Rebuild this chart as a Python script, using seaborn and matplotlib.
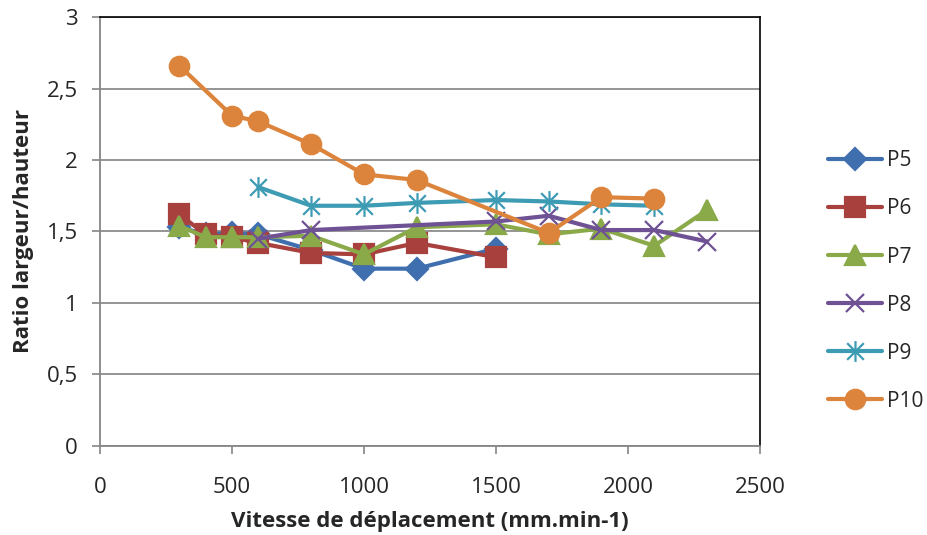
import numpy as np
import pandas as pd
import matplotlib
matplotlib.use("Agg")
import matplotlib.pyplot as plt
from matplotlib.path import Path
import seaborn as sns

# values
p5_x = [300, 400, 500, 600, 800, 1000, 1200, 1500]
p5_y = [1.53, 1.48, 1.49, 1.48, 1.37, 1.24, 1.24, 1.38]

p6_x = [300, 400, 500, 600, 800, 1000, 1200, 1500]
p6_y = [1.62, 1.48, 1.46, 1.42, 1.35, 1.34, 1.42, 1.32]

p7_x = [300, 400, 500, 600, 800, 1000, 1200, 1500, 1700, 1900, 2100, 2300]
p7_y = [1.54, 1.46, 1.46, 1.46, 1.47, 1.34, 1.53, 1.55, 1.48, 1.52, 1.40, 1.65]

p8_x = [600, 800, 1500, 1700, 1900, 2100, 2300]
p8_y = [1.45, 1.51, 1.57, 1.61, 1.51, 1.51, 1.43]

p9_x = [600, 800, 1000, 1200, 1500, 1700, 1900, 2100]
p9_y = [1.81, 1.68, 1.68, 1.70, 1.72, 1.71, 1.69, 1.68]

p10_x = [300, 500, 600, 800, 1000, 1200, 1700, 1900, 2100]
p10_y = [2.66, 2.31, 2.27, 2.11, 1.90, 1.86, 1.49, 1.74, 1.73]

series_names = ["P5", "P6", "P7", "P8", "P9", "P10"]
x_ticks = [0, 500, 1000, 1500, 2000, 2500]
y_ticks = [0, 0.5, 1, 1.5, 2, 2.5, 3]
y_tick_labels = ["0", "0,5", "1", "1,5", "2", "2,5", "3"]

# Excel "star" marker: vertical stroke plus an X
star = Path(
    [(0, -1), (0, 1), (-0.8, -0.8), (0.8, 0.8), (-0.8, 0.8), (0.8, -0.8)],
    [Path.MOVETO, Path.LINETO, Path.MOVETO, Path.LINETO, Path.MOVETO, Path.LINETO],
)

styles = {
    "P5": dict(color="#3F6FAE", marker="D", ms=11),
    "P6": dict(color="#A8403E", marker="s", ms=14),
    "P7": dict(color="#8AAA4A", marker="^", ms=14),
    "P8": dict(color="#6E5294", marker="x", ms=13),
    "P9": dict(color="#3D9BB3", marker=star, ms=15),
    "P10": dict(color="#DC843C", marker="o", ms=14),
}

frames = []
for name, xs, ys in zip(series_names,
                        [p5_x, p6_x, p7_x, p8_x, p9_x, p10_x],
                        [p5_y, p6_y, p7_y, p8_y, p9_y, p10_y]):
    frames.append(pd.DataFrame({"vitesse": xs, "ratio": ys, "serie": name}))
df = pd.concat(frames, ignore_index=True)

sns.set_style("white")
plt.rcParams["font.family"] = ["Open Sans", "DejaVu Sans"]

fig = plt.figure(figsize=(9.28, 5.35), dpi=100)
ax = fig.add_axes([0.1078, 0.1664, 0.711, 0.8018])

for name in series_names:
    st = styles[name]
    sub = df[df["serie"] == name]
    sns.lineplot(data=sub, x="vitesse", y="ratio", ax=ax, color=st["color"],
                 marker=st["marker"], markersize=st["ms"], linewidth=3,
                 markeredgecolor=st["color"], markerfacecolor=st["color"],
                 markeredgewidth=1.6, label=name, zorder=3)

ax.set_xlim(0, 2500)
ax.set_ylim(0, 3)
ax.set_xticks(x_ticks)
ax.set_xticklabels([str(t) for t in x_ticks])
ax.set_yticks(y_ticks)
ax.set_yticklabels(y_tick_labels)
ax.tick_params(axis="both", labelsize=16, length=6, width=1.2, color="#868686",
               direction="out", left=True, bottom=True)
ax.tick_params(axis="x", pad=16)
ax.tick_params(axis="y", pad=10)

ax.grid(axis="y", color="#8C8C8C", linewidth=1.3)
ax.grid(axis="x", visible=False)
ax.set_axisbelow(True)
for side in ["left", "bottom"]:
    ax.spines[side].set_color("#868686")
    ax.spines[side].set_linewidth(1.3)
for side in ["top", "right"]:
    ax.spines[side].set_color("black")
    ax.spines[side].set_linewidth(1.2)

ax.set_xlabel("Vitesse de déplacement (mm.min-1)", fontsize=16, fontweight="bold", labelpad=10)
ax.set_ylabel("Ratio largeur/hauteur", fontsize=16, fontweight="bold", labelpad=9)

handles, labels = ax.get_legend_handles_labels()
ax.get_legend().remove()
fig.legend(handles, labels, loc="upper left", bbox_to_anchor=(0.872, 0.754),
           frameon=False, fontsize=15, labelspacing=1.3, handlelength=2.6,
           handletextpad=0.25)

fig.savefig("out.png", dpi=100)
